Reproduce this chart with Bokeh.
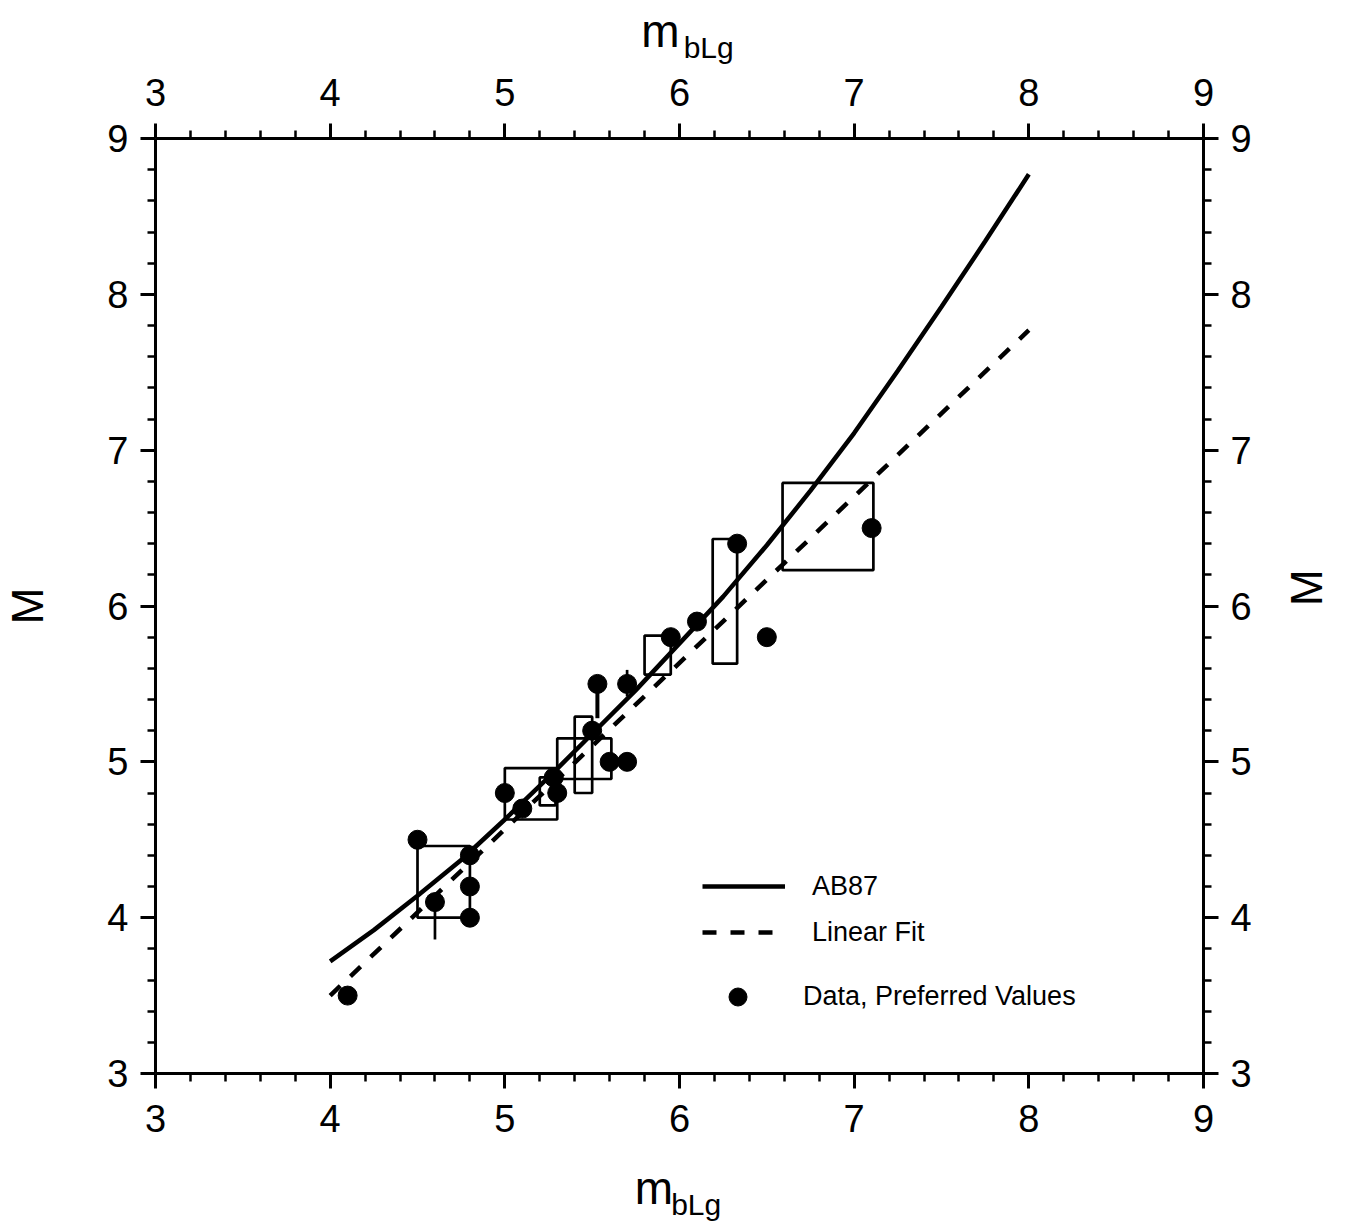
import math
from bokeh.plotting import figure
from bokeh.models import (LinearAxis, FixedTicker, Range1d, Legend, LegendItem)
from bokeh.embed import file_html
from bokeh.resources import INLINE

# ---------------- data ----------------
ab87_x = [4.0, 4.25, 4.5, 4.75, 5.0, 5.25, 5.5, 5.75, 6.0, 6.25, 6.5, 6.75, 7.0, 7.25, 7.5, 7.75, 8.0]
ab87_y = [3.72, 3.92, 4.14, 4.37, 4.63, 4.90, 5.18, 5.46, 5.76, 6.06, 6.39, 6.74, 7.11, 7.51, 7.92, 8.34, 8.77]

fit_x = [4.0, 8.0]
fit_y = [3.50, 7.77]

pref_x = [4.1, 4.5, 4.6, 4.8, 4.8, 4.8, 5.0, 5.1, 5.28, 5.3, 5.5, 5.53, 5.6, 5.7, 5.7, 5.95, 6.1, 6.33, 6.5, 7.1]
pref_y = [3.5, 4.5, 4.1, 4.4, 4.2, 4.0, 4.8, 4.7, 4.9, 4.8, 5.2, 5.5, 5.0, 5.5, 5.0, 5.8, 5.9, 6.4, 5.8, 6.5]

box_left = [4.5, 5.0, 5.2, 5.3, 5.4, 5.8, 6.19, 6.59]
box_right = [4.8, 5.3, 5.29, 5.61, 5.5, 5.95, 6.33, 7.11]
box_bottom = [4.0, 4.63, 4.72, 4.89, 4.8, 5.56, 5.63, 6.23]
box_top = [4.46, 4.96, 4.9, 5.15, 5.29, 5.81, 6.43, 6.79]

err_x = [4.6, 5.7]
err_lo = [3.86, 5.42]
err_hi = [4.1, 5.59]
stem_x = [5.53]
stem_lo = [5.28]
stem_hi = [5.5]

tick_values = [3, 4, 5, 6, 7, 8, 9]
minor_values = [t + k * 0.2 for t in tick_values[:-1] for k in range(1, 5)]

x_title_main = "m"
x_title_sub = "bLg"
y_title = "M"

FONT = "Liberation Sans"
NB = "\u00a0"

p = figure(width=1358, height=1226, x_range=Range1d(3, 9), y_range=Range1d(3, 9),
           output_backend="svg", toolbar_location=None,
           x_axis_location=None, y_axis_location=None,
           min_border_left=153, min_border_right=155, min_border_top=138, min_border_bottom=153)
p.xgrid.visible = False
p.ygrid.visible = False
p.outline_line_color = None
p.background_fill_color = "white"
p.border_fill_color = "white"


def make_axis(standoff=12):
    ax = LinearAxis()
    ax.ticker = FixedTicker(ticks=tick_values, minor_ticks=minor_values)
    ax.axis_line_width = 3
    ax.axis_line_color = "black"
    ax.major_tick_line_width = 3
    ax.minor_tick_line_width = 2.5
    ax.major_tick_out = 15
    ax.major_tick_in = 0
    ax.minor_tick_out = 8
    ax.minor_tick_in = 0
    ax.major_label_text_font = FONT
    ax.major_label_text_font_size = "38px"
    ax.major_label_text_color = "black"
    ax.major_label_standoff = standoff
    ax.axis_label_text_font = FONT
    ax.axis_label_text_font_style = "normal"
    ax.axis_label_text_color = "black"
    return ax


def title_axis(label, size, standoff):
    ax = LinearAxis(ticker=FixedTicker(ticks=[]))
    ax.axis_line_color = None
    ax.major_tick_out = 0
    ax.major_tick_in = 0
    ax.minor_tick_out = 0
    ax.minor_tick_in = 0
    ax.major_label_standoff = 0
    ax.axis_label = label
    ax.axis_label_text_font = FONT
    ax.axis_label_text_font_style = "normal"
    ax.axis_label_text_color = "black"
    ax.axis_label_text_font_size = size
    ax.axis_label_standoff = standoff
    return ax


# bottom: main axis carries "m", a label-only axis below carries the subscript
bottom = make_axis(16)
bottom.axis_label = x_title_main + NB * 4
bottom.axis_label_text_font_size = "46px"
bottom.axis_label_standoff = 27
p.add_layout(bottom, "below")
p.add_layout(title_axis(NB * 4 + x_title_sub, "30px", -29), "below")

# top: main axis carries the subscript, a label-only axis above carries "m"
top = make_axis(18)
top.axis_label = NB * 7 + x_title_sub
top.axis_label_text_font_size = "30px"
top.axis_label_standoff = 12
p.add_layout(top, "above")
p.add_layout(title_axis(x_title_main + NB * 3, "46px", -29), "above")

left = make_axis(12)
left.axis_label = y_title
left.axis_label_text_font_size = "44px"
left.axis_label_standoff = 52
p.add_layout(left, "left")

right = make_axis(12)
right.axis_label = y_title
right.axis_label_text_font_size = "44px"
right.axis_label_standoff = 52
right.axis_label_orientation = math.pi / 2
right.axis_label_text_baseline = "top"
p.add_layout(right, "right")

# boxes
p.quad(left=box_left, right=box_right, bottom=box_bottom, top=box_top,
       fill_color=None, line_color="black", line_width=2.7)
# error bars
p.segment(x0=err_x, y0=err_lo, x1=err_x, y1=err_hi, line_color="black", line_width=2.7)
p.segment(x0=stem_x, y0=stem_lo, x1=stem_x, y1=stem_hi, line_color="black", line_width=4)

r_ab = p.line(ab87_x, ab87_y, line_width=4.5, line_color="black")
r_fit = p.line(fit_x, fit_y, line_width=4.5, line_color="black", line_dash="14 14")
r_pts = p.scatter(pref_x, pref_y, size=19, fill_color="black", line_color="black")

leg1 = Legend(items=[LegendItem(label="AB87", renderers=[r_ab]),
                     LegendItem(label="Linear Fit", renderers=[r_fit])],
              location=(547, 125), glyph_width=83, glyph_height=32, label_height=32,
              spacing=14, label_standoff=27, padding=0, margin=0,
              border_line_color=None, background_fill_alpha=0,
              label_text_font=FONT, label_text_font_size="27px", label_text_color="black")
leg2 = Legend(items=[LegendItem(label="Data, Preferred Values", renderers=[r_pts])],
              location=(560, 54), glyph_width=45, glyph_height=45, label_height=45,
              label_standoff=43, padding=0, margin=0,
              border_line_color=None, background_fill_alpha=0,
              label_text_font=FONT, label_text_font_size="27px", label_text_color="black")
p.add_layout(leg1)
p.add_layout(leg2)

open("out.html", "w").write(file_html(p, INLINE))
